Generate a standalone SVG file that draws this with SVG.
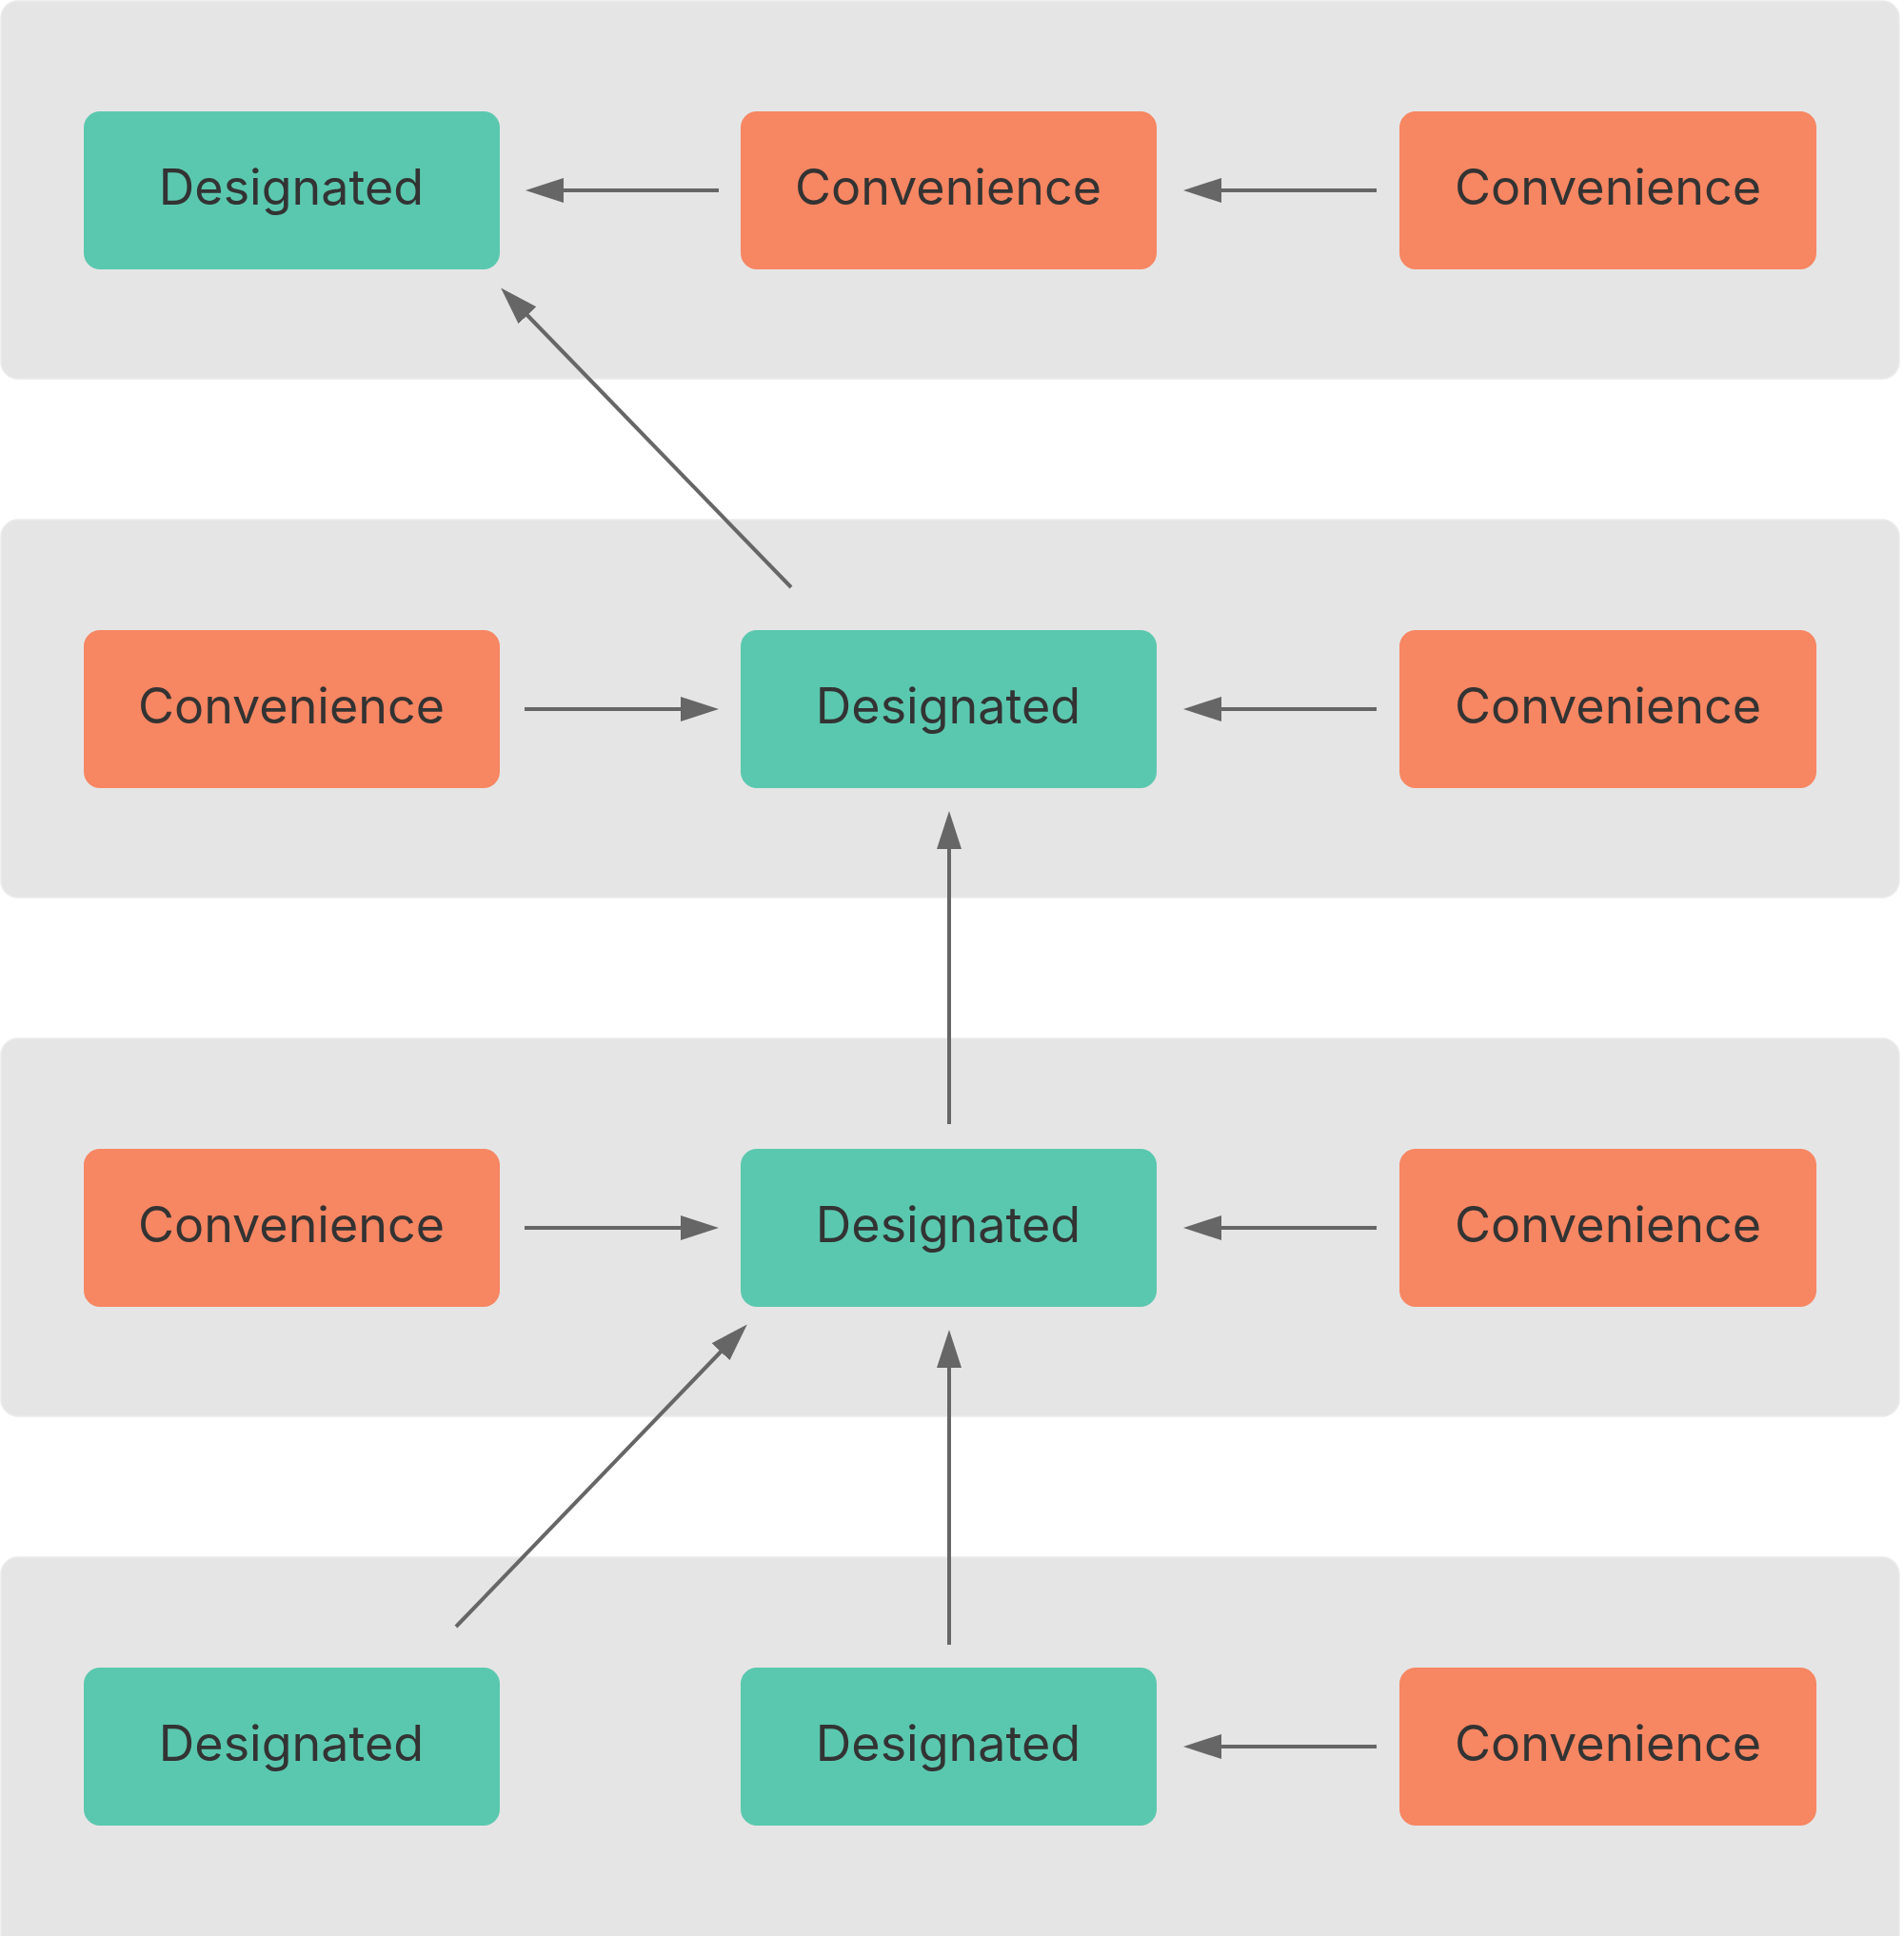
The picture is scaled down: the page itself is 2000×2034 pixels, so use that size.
<svg xmlns="http://www.w3.org/2000/svg" width="2000" height="2034" viewBox="0 0 2000 2034">
<style>
.panel{fill:#e5e5e5;stroke:#ebebeb;stroke-width:1.5}
.des{fill:#5ac8af}
.con{fill:#f78662}
.lbl{font-family:Inter,"Open Sans","Liberation Sans",sans-serif;font-size:52px;fill:#333333;text-anchor:middle}
.arr{stroke:#666666;stroke-width:4;fill:none;marker-end:url(#ah)}
</style>
<defs>
<marker id="ah" markerUnits="userSpaceOnUse" markerWidth="42" markerHeight="28" refX="10" refY="13" orient="auto" viewBox="0 0 42 28">
<path d="M0,0 L40,13 L0,26 Z" fill="#666666"/>
</marker>
</defs>
<rect width="2000" height="2034" fill="#ffffff"/>
<g id="panels">
<rect class="panel" x="1" y="1" width="1994" height="397" rx="18"/>
<rect class="panel" x="1" y="546" width="1994" height="397" rx="18"/>
<rect class="panel" x="1" y="1091" width="1994" height="397" rx="18"/>
<rect class="panel" x="1" y="1636" width="1994" height="420" rx="18"/>
</g>
<g id="r1c1"><rect class="des" x="88" y="117" width="437" height="166" rx="17"/><text class="lbl" x="306" y="215">Designated</text></g>
<g id="r1c2"><rect class="con" x="778" y="117" width="437" height="166" rx="17"/><text class="lbl" x="996" y="215">Convenience</text></g>
<g id="r1c3"><rect class="con" x="1470" y="117" width="438" height="166" rx="17"/><text class="lbl" x="1689" y="215">Convenience</text></g>
<g id="r2c1"><rect class="con" x="88" y="662" width="437" height="166" rx="17"/><text class="lbl" x="306" y="760">Convenience</text></g>
<g id="r2c2"><rect class="des" x="778" y="662" width="437" height="166" rx="17"/><text class="lbl" x="996" y="760">Designated</text></g>
<g id="r2c3"><rect class="con" x="1470" y="662" width="438" height="166" rx="17"/><text class="lbl" x="1689" y="760">Convenience</text></g>
<g id="r3c1"><rect class="con" x="88" y="1207" width="437" height="166" rx="17"/><text class="lbl" x="306" y="1305">Convenience</text></g>
<g id="r3c2"><rect class="des" x="778" y="1207" width="437" height="166" rx="17"/><text class="lbl" x="996" y="1305">Designated</text></g>
<g id="r3c3"><rect class="con" x="1470" y="1207" width="438" height="166" rx="17"/><text class="lbl" x="1689" y="1305">Convenience</text></g>
<g id="r4c1"><rect class="des" x="88" y="1752" width="437" height="166" rx="17"/><text class="lbl" x="306" y="1850">Designated</text></g>
<g id="r4c2"><rect class="des" x="778" y="1752" width="437" height="166" rx="17"/><text class="lbl" x="996" y="1850">Designated</text></g>
<g id="r4c3"><rect class="con" x="1470" y="1752" width="438" height="166" rx="17"/><text class="lbl" x="1689" y="1850">Convenience</text></g>
<g id="connectors">
<line class="arr" x1="755" y1="200" x2="582" y2="200"/>
<line class="arr" x1="1446" y1="200" x2="1273" y2="200"/>
<line class="arr" x1="551" y1="745" x2="725" y2="745"/>
<line class="arr" x1="1446" y1="745" x2="1273" y2="745"/>
<line class="arr" x1="551" y1="1290" x2="725" y2="1290"/>
<line class="arr" x1="1446" y1="1290" x2="1273" y2="1290"/>
<line class="arr" x1="1446" y1="1835" x2="1273" y2="1835"/>
<line class="arr" x1="831" y1="617" x2="547" y2="324"/>
<line class="arr" x1="997" y1="1181" x2="997" y2="882"/>
<line class="arr" x1="479" y1="1709" x2="764" y2="1413"/>
<line class="arr" x1="997" y1="1728" x2="997" y2="1427"/>
</g>
</svg>
